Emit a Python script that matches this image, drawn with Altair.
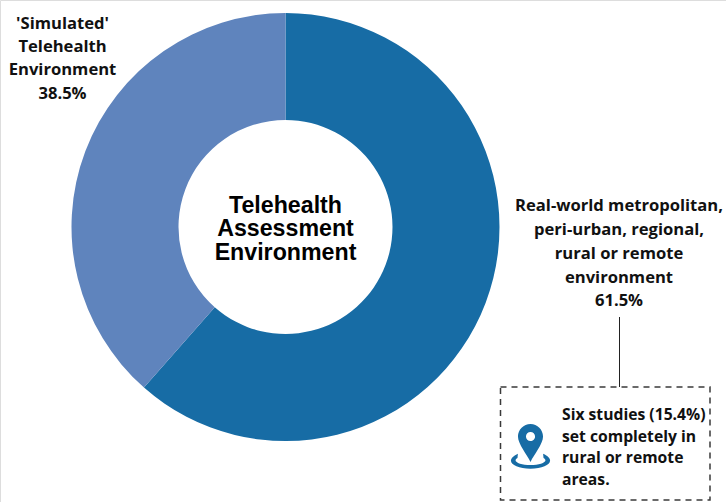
import altair as alt
import pandas as pd

# Share of studies by assessment environment
environments = ["Real-world", "Simulated"]
shares = [61.5, 38.5]
slice_order = [1, 2]
slice_colors = ["#176ca5", "#5f84bd"]

center_lines = ["Telehealth", "Assessment", "Environment"]
simulated_lines = ["'Simulated'", "Telehealth", "Environment", "38.5%"]
realworld_lines = [
    "Real-world metropolitan,",
    "peri-urban, regional,",
    "rural or remote",
    "environment",
    "61.5%",
]
callout_lines = ["Six studies (15.4%)", "set completely in", "rural or remote", "areas."]

# Location pin and the ring under it, as unit-square symbol paths
PIN_PATH = (
    "M0,1 C-0.18,0.62 -0.66,0.05 -0.66,-0.34 A0.66,0.66 0 1 1 0.66,-0.34 "
    "C0.66,0.05 0.18,0.62 0,1 Z "
    "M0,-0.58 A0.24,0.24 0 1 0 0.001,-0.58 Z"
)
RING_PATH = (
    "M-0.6,-0.3 C-1.3,0.02 -0.8,0.42 0,0.42 C0.8,0.42 1.3,0.02 0.6,-0.3 "
    "L0.62,-0.1 C0.9,0.06 0.5,0.24 0,0.24 C-0.5,0.24 -0.9,0.06 -0.62,-0.1 Z"
)

W, H = 726, 502
CX, CY = 285.5, 227
SANS = "Open Sans"


def text_block(lines, x, ys, font, size, align="center", color="#111111"):
    df = pd.DataFrame({"t": lines, "py": ys})
    return (
        alt.Chart(df)
        .mark_text(font=font, fontSize=size, fontWeight="bold", align=align,
                   baseline="middle", color=color)
        .encode(text="t:N", x=alt.value(x), y=alt.Y("py:Q", scale=None))
    )


pie_df = pd.DataFrame({"env": environments, "share": shares, "o": slice_order})
donut = (
    alt.Chart(pie_df)
    .mark_arc(outerRadius=214, innerRadius=107)
    .encode(
        theta=alt.Theta("share:Q", stack=True),
        order=alt.Order("o:O"),
        color=alt.Color("env:N", scale=alt.Scale(domain=environments, range=slice_colors), legend=None),
        x=alt.value(CX),
        y=alt.value(CY),
    )
)

leader = (
    alt.Chart(pd.DataFrame({"a": [0]}))
    .mark_rule(color="#222222", strokeWidth=1)
    .encode(x=alt.value(619.5), y=alt.value(317), y2=alt.value(387))
)

callout_box = (
    alt.Chart(pd.DataFrame({"a": [0]}))
    .mark_rect(fill="#ffffff", stroke="#3a3a3a", strokeWidth=1.5, strokeDash=[6, 5])
    .encode(x=alt.value(500.5), x2=alt.value(710), y=alt.value(387), y2=alt.value(500))
)

pin = (
    alt.Chart(pd.DataFrame({"a": [0]}))
    .mark_point(shape=PIN_PATH, filled=True, fill="#176ca5", stroke=None, opacity=1, size=1444)
    .encode(x=alt.value(530.5), y=alt.value(443))
)
ring = (
    alt.Chart(pd.DataFrame({"a": [0]}))
    .mark_point(shape=RING_PATH, filled=True, fill="#176ca5", stroke=None, opacity=1, size=1764)
    .encode(x=alt.value(530.5), y=alt.value(460))
)

chart = (
    alt.layer(
        donut,
        text_block(center_lines, 285.5, [205.5, 229, 252.5], "Liberation Sans", 23.2, color="#000000"),
        text_block(simulated_lines, 62.5, [24, 47, 70, 93.5], SANS, 16.6),
        text_block(realworld_lines, 619, [205.5, 230, 254, 278, 301], SANS, 16.6),
        leader,
        callout_box,
        ring,
        pin,
        text_block(callout_lines, 562, [415, 437, 458, 480], SANS, 15.7, align="left"),
    )
    .properties(width=W, height=H, padding=0, autosize=alt.AutoSizeParams(type="none"))
    .configure_view(stroke=None)
    .configure(background="#ffffff")
)

chart.save("out.html", embed_options={"renderer": "svg", "actions": False})
